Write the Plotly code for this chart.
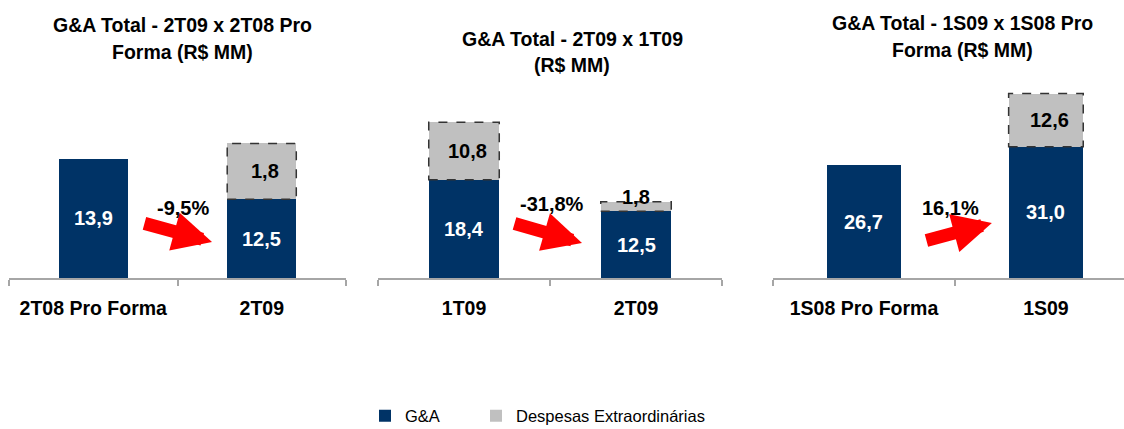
import plotly.graph_objects as go

# ---------------- data ----------------
titles = [
    ["G&A Total - 2T09 x 2T08 Pro", "Forma (R$ MM)"],
    ["G&A Total - 2T09 x 1T09", "(R$ MM)"],
    ["G&A Total - 1S09 x 1S08 Pro", "Forma (R$ MM)"],
]
categories = [
    ["2T08 Pro Forma", "2T09"],
    ["1T09", "2T09"],
    ["1S08 Pro Forma", "1S09"],
]
# bar heights as drawn in the picture
ga_values = [[13.9, 9.2], [18.4, 12.5], [26.7, 31.0]]
extra_values = [[0, 6.5], [10.8, 1.8], [0, 12.6]]
# printed labels
ga_labels = [["13,9", "12,5"], ["18,4", "12,5"], ["26,7", "31,0"]]
extra_labels = [["", "1,8"], ["10,8", "1,8"], ["", "12,6"]]
change_labels = ["-9,5%", "-31,8%", "16,1%"]
series_names = ["G&A", "Despesas Extraordinárias"]

# ---------------- style ----------------
NAVY = "#003366"
GRAY = "#C0C0C0"
RED = "#FF0000"
FONT = "Liberation Sans, Arial, sans-serif"
x_domains = [[9 / 1124, 346 / 1124], [378 / 1124, 722 / 1124], [773 / 1124, 1.0]]
x_ranges = [[-0.5, 1.5], [-0.5, 1.5], [-0.5, 1.429]]
y_max = [23.1, 37.1, 46.8]
bar_w = 0.41
title_x = [182 / 1124, 572 / 1124, 962 / 1124]
title_y = [[1.278, 1.141], [1.207, 1.076], [1.288, 1.152]]
arrows = [  # (tail x, tail y, head x, head y) in axis units / domain
    (0.295, 0.278, 0.705, 0.182),
    (0.285, 0.278, 0.686, 0.177),
    (0.335, 0.187, 0.703, 0.278),
]
pct_pos = [(0.533, 0.354), (0.512, 0.374), (0.478, 0.354)]
legend_x = [365 / 1124, 476 / 1124]
legend_y = 13 / 429

fig = go.Figure()
annotations = []
shapes = []

for p in range(3):
    xa = "x" if p == 0 else f"x{p+1}"
    ya = "y" if p == 0 else f"y{p+1}"
    idx = list(range(len(categories[p])))
    fig.add_trace(go.Bar(
        x=idx, y=ga_values[p], width=bar_w, name=series_names[0],
        marker=dict(color=NAVY, line=dict(width=0)),
        xaxis=xa, yaxis=ya, showlegend=(p == 0), legendgroup="ga", legend="legend",
        hoverinfo="skip",
    ))
    fig.add_trace(go.Bar(
        x=idx, y=extra_values[p], width=bar_w, name=series_names[1],
        marker=dict(color=GRAY, line=dict(width=0)),
        xaxis=xa, yaxis=ya, showlegend=(p == 0), legendgroup="ex", legend="legend2",
        hoverinfo="skip",
    ))
    for i in idx:
        g = ga_values[p][i]
        e = extra_values[p][i]
        annotations.append(dict(
            x=i, y=g / 2, xref=xa, yref=ya, text=ga_labels[p][i], showarrow=False,
            font=dict(family=FONT, size=20, color="white", weight="bold"),
        ))
        if e > 0:
            shapes.append(dict(
                type="rect", xref=xa, yref=ya, x0=i - bar_w / 2, x1=i + bar_w / 2,
                y0=g, y1=g + e, line=dict(color="#333333", width=1.5, dash="dash"),
                fillcolor="rgba(0,0,0,0)", layer="above",
            ))
            if e / y_max[p] > 0.12:
                annotations.append(dict(
                    x=i + 0.02, y=g + e / 2, xref=xa, yref=ya, text=extra_labels[p][i],
                    showarrow=False,
                    font=dict(family=FONT, size=20, color="black", weight="bold"),
                ))
            else:
                annotations.append(dict(
                    x=i, y=g + e, xref=xa, yref=ya, text=extra_labels[p][i],
                    showarrow=False, yshift=5,
                    font=dict(family=FONT, size=20, color="black", weight="bold"),
                ))
    # titles
    for li, line in enumerate(titles[p]):
        annotations.append(dict(
            x=title_x[p], y=title_y[p][li], xref="paper", yref="paper", text=line,
            showarrow=False, xanchor="center", yanchor="middle",
            font=dict(family=FONT, size=19.5, color="black", weight="bold"),
        ))
    # arrow
    tx, ty, hx, hy = arrows[p]
    annotations.append(dict(
        x=hx, y=hy, ax=tx, ay=ty, xref=xa, yref=f"{ya} domain", axref=xa,
        ayref=f"{ya} domain", showarrow=True, arrowhead=2, arrowsize=0.6,
        arrowwidth=13, arrowcolor=RED, text="",
    ))
    px_, py_ = pct_pos[p]
    annotations.append(dict(
        x=px_, y=py_, xref=xa, yref=f"{ya} domain", text=change_labels[p],
        showarrow=False, font=dict(family=FONT, size=20, color="black", weight="bold"),
    ))
    xkey = "xaxis" if p == 0 else f"xaxis{p+1}"
    ykey = "yaxis" if p == 0 else f"yaxis{p+1}"
    fig.update_layout({
        xkey: dict(
            domain=x_domains[p], range=x_ranges[p], anchor=ya,
            tickmode="array", tickvals=idx, ticktext=categories[p],
            showline=True, linecolor="#A6A6A6", linewidth=1.5,
            ticks="", showgrid=False, zeroline=False, ticklabelstandoff=12,
            tickfont=dict(family=FONT, size=19.5, color="black", weight="bold"),
            minor=dict(
                tickmode="array", tickvals=[-0.5, 0.5, 1.5], ticks="outside",
                ticklen=6, tickcolor="#A6A6A6", tickwidth=1.5, showgrid=False,
            ),
            fixedrange=True, automargin=False,
        ),
        ykey: dict(
            domain=[0, 1], range=[0, y_max[p]], anchor=xa, visible=False,
            showgrid=False, zeroline=False, fixedrange=True,
        ),
    })

legend_common = dict(
    orientation="h", xanchor="left", yref="container", y=legend_y, yanchor="middle",
    font=dict(family=FONT, size=16.5, color="black"),
    itemwidth=30, bgcolor="rgba(0,0,0,0)",
)
fig.update_layout(
    barmode="stack",
    width=1124, height=429,
    margin=dict(l=0, r=0, t=80, b=151, autoexpand=False),
    paper_bgcolor="white", plot_bgcolor="white",
    annotations=annotations, shapes=shapes,
    legend=dict(x=legend_x[0], **legend_common),
    legend2=dict(x=legend_x[1], **legend_common),
    showlegend=True,
)

fig.write_html(
    "out.html",
    config={"displayModeBar": False},
    post_script="document.body.style.margin='0';",
)
